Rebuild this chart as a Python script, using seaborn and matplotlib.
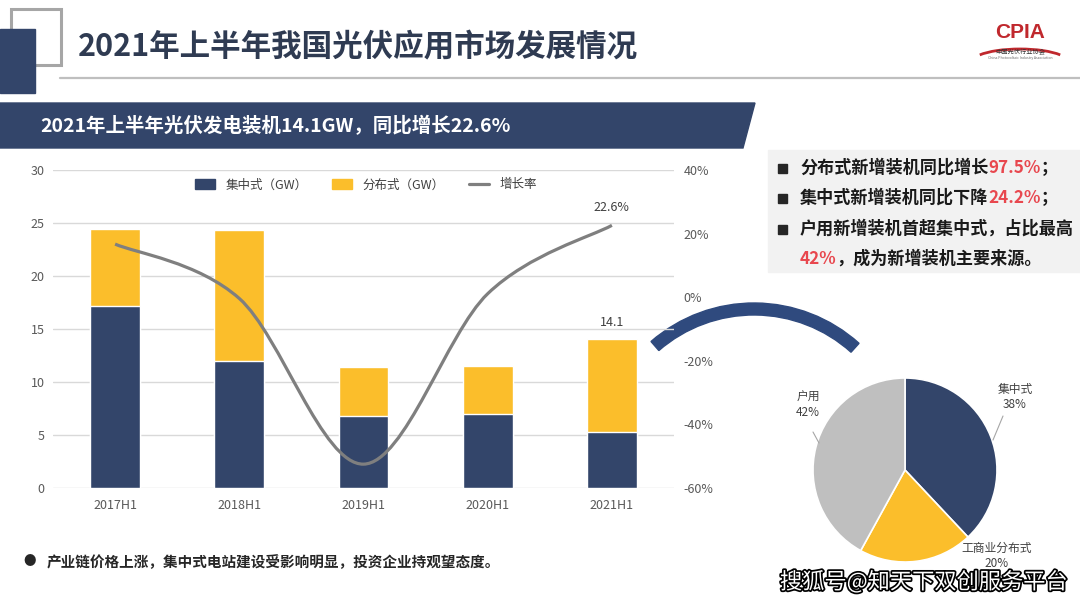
import numpy as np
import seaborn as sns
import matplotlib.pyplot as plt
from matplotlib.patches import Polygon, Rectangle, Wedge, Patch, PathPatch, Arc
from matplotlib.lines import Line2D
from matplotlib.path import Path
import matplotlib.patheffects as pe

# 数据
periods = ['2017H1', '2018H1', '2019H1', '2020H1', '2021H1']
centralized = [17.2, 12.0, 6.8, 7.0, 5.3]      # 集中式 (GW)
distributed = [7.2, 12.3, 4.6, 4.5, 8.8]       # 分布式 (GW)
growth = [16.7, -0.4, -52.5, 1.1, 22.6]        # 增长率 (%)

pie_labels = ['集中式', '工商业分布式', '户用']
pie_values = [38, 20, 42]

bullets = [
    ('分布式新增装机同比增长', '97.5%', '；'),
    ('集中式新增装机同比下降', '24.2%', '；'),
    ('户用新增装机首超集中式，占比最高', '', ''),
    ('', '42%', '，成为新增装机主要来源。'),
]

NAVY = '#33456A'
YELLOW = '#FBBE2B'
GREY_LINE = '#7F7F7F'
PIE_GREY = '#BFBFBF'
RED = '#E8474E'
TICK = '#595959'

sns.set_style('white')
plt.rcParams['font.family'] = ['Noto Sans CJK SC', 'DejaVu Sans']

fig = plt.figure(figsize=(10.8, 6.08), dpi=100)

# 背景层，像素坐标（y 向下）
bg = fig.add_axes([0, 0, 1, 1], zorder=0)
bg.set_xlim(0, 1080)
bg.set_ylim(608, 0)
bg.axis('off')

# 左上角装饰
bg.add_patch(Rectangle((11, 9), 50, 56, fill=False, edgecolor='#A6A6A6', lw=2.2))
bg.add_patch(Rectangle((0, 29), 35, 64, color=NAVY))
bg.text(78, 47, '2021年上半年我国光伏应用市场发展情况', fontsize=22, fontweight='bold',
        color='#2F3B52', va='center', ha='left')
bg.plot([60, 1080], [78, 78], color='#BFBFBF', lw=1.6)

# CPIA 标志
bg.text(1020, 32, 'CPIA', fontsize=15, fontweight='bold', color='#C0282D',
        family='Liberation Sans', ha='center', va='center')
bg.add_patch(Arc((1020, 62), 96, 26, theta1=190, theta2=350, color='#C0282D', lw=2))
bg.text(1020, 52, '中国光伏行业协会', fontsize=4.5, color='#333333', ha='center', va='center')
bg.text(1020, 58, 'China Photovoltaic Industry Association', fontsize=2.5, color='#666666',
        ha='center', va='center')

# 标题横幅
bg.add_patch(Polygon([(0, 103), (755, 103), (743, 148), (0, 148)], color=NAVY))
bg.text(40, 126, '2021年上半年光伏发电装机14.1GW，同比增长22.6%', fontsize=14,
        fontweight='bold', color='white', va='center', ha='left')

# 右侧要点框
bg.add_patch(Rectangle((768, 150), 312, 122, color='#F2F2F2'))
line_y = [168, 198, 229, 259]
for i, (black1, red, black2) in enumerate(bullets):
    y = line_y[i]
    if i < 3:
        bg.add_patch(Rectangle((778, y - 4.5), 9, 9, color='#262626'))
    x0 = 800
    prev = None
    for part, col in [(black1, '#1A1A1A'), (red, RED), (black2, '#1A1A1A')]:
        if not part:
            continue
        if prev is None:
            prev = bg.text(x0, y, part, fontsize=12.3, fontweight='bold', color=col,
                           va='center', ha='left')
        else:
            prev = bg.annotate(part, xy=(1, 0), xycoords=prev, fontsize=12.3,
                               fontweight='bold', color=col, va='bottom', ha='left')

# 弧形箭头
bg.add_patch(Wedge((754, 460), 157, 229, 312, width=12, color='#2F4A7E', zorder=5))

# 底部说明
bg.text(30, 562, '●', fontsize=9, color='#262626', va='center', ha='center')
bg.text(47, 562, '产业链价格上涨，集中式电站建设受影响明显，投资企业持观望态度。', fontsize=10.5,
        fontweight='bold', color='#262626', va='center', ha='left')

# 水印
bg.text(780, 582, '搜狐号@知天下双创服务平台', fontsize=16, color='white', va='center',
        ha='left', path_effects=[pe.withStroke(linewidth=2.5, foreground='black')], zorder=10)

# 柱状图
ax = fig.add_axes([53 / 1080, (608 - 488) / 608, 621 / 1080, 318 / 608], zorder=2)
ax.set_facecolor('none')
totals = [c + d for c, d in zip(centralized, distributed)]
sns.barplot(x=periods, y=totals, color=YELLOW, width=0.4, saturation=1, ax=ax, zorder=3)
sns.barplot(x=periods, y=centralized, color=NAVY, width=0.4, saturation=1, ax=ax, zorder=3)
ax.set_ylim(0, 30)
ax.set_yticks(range(0, 31, 5))
ax.grid(axis='y', color='#D9D9D9', lw=1)
ax.set_axisbelow(True)
for s in ax.spines.values():
    s.set_visible(False)
ax.tick_params(length=0, labelsize=9, labelcolor=TICK)
ax.tick_params(axis='y', pad=6)
ax.tick_params(axis='x', pad=8)
ax.set_xlabel('')
ax.set_ylabel('')
ax.annotate(f'{totals[-1]:.1f}', xy=(4, totals[-1]), xytext=(0, 7), textcoords='offset points',
            ha='center', va='bottom', fontsize=9, color='#404040')

# 增长率（平滑曲线）
ax2 = ax.twinx()
ax2.set_ylim(-60, 40)
ax2.set_yticks(range(-60, 41, 20))
ax2.set_yticklabels([f'{v}%' for v in range(-60, 41, 20)])
for s in ax2.spines.values():
    s.set_visible(False)
ax2.tick_params(length=0, labelsize=9, labelcolor=TICK, pad=7)

pts = np.column_stack([np.arange(len(growth)), growth]).astype(float)
verts = [pts[0]]
codes = [Path.MOVETO]
n = len(pts)
for i in range(n - 1):
    p0 = pts[max(i - 1, 0)]
    p1 = pts[i]
    p2 = pts[i + 1]
    p3 = pts[min(i + 2, n - 1)]
    verts += [p1 + (p2 - p0) / 6, p2 - (p3 - p1) / 6, p2]
    codes += [Path.CURVE4] * 3
ax2.add_patch(PathPatch(Path(verts, codes), fill=False, edgecolor=GREY_LINE, lw=2.3, zorder=4))
ax2.annotate(f'{growth[-1]}%', xy=(4, growth[-1]), xytext=(0, 8), textcoords='offset points',
             ha='center', va='bottom', fontsize=9, color='#404040')

handles = [Patch(color=NAVY, label='集中式（GW）'),
           Patch(color=YELLOW, label='分布式（GW）'),
           Line2D([0], [0], color=GREY_LINE, lw=2.3, label='增长率')]
ax2.legend(handles=handles, loc='center', bbox_to_anchor=(0.504, 0.953), ncol=3, frameon=False,
           fontsize=9, handlelength=1.6, handleheight=0.8, columnspacing=2.0, labelcolor='#404040')

# 饼图
pax = fig.add_axes([785 / 1080, (608 - 590) / 608, 240 / 1080, 240 / 608], zorder=3)
pax.pie(pie_values, colors=[NAVY, YELLOW, PIE_GREY], startangle=90, counterclock=False,
        radius=0.92, wedgeprops=dict(edgecolor='white', linewidth=1.2))
pax.set_xlim(-1.2, 1.2)
pax.set_ylim(-1.2, 1.2)
pax.axis('off')
label_pos = [(1.10, 0.73), (0.92, -0.86), (-0.97, 0.65)]
line_from = [(0.98, 0.54), None, (-0.92, 0.38)]
line_to = [(0.88, 0.30), None, (-0.86, 0.27)]
for lab, val, pos, a, b in zip(pie_labels, pie_values, label_pos, line_from, line_to):
    pax.text(pos[0], pos[1], f'{lab}\n{val}%', ha='center', va='center', fontsize=8.5,
             color='#404040', linespacing=1.2)
    if a is not None:
        pax.plot([a[0], b[0]], [a[1], b[1]], color='#A6A6A6', lw=0.8)

fig.savefig('out.png', dpi=100)
